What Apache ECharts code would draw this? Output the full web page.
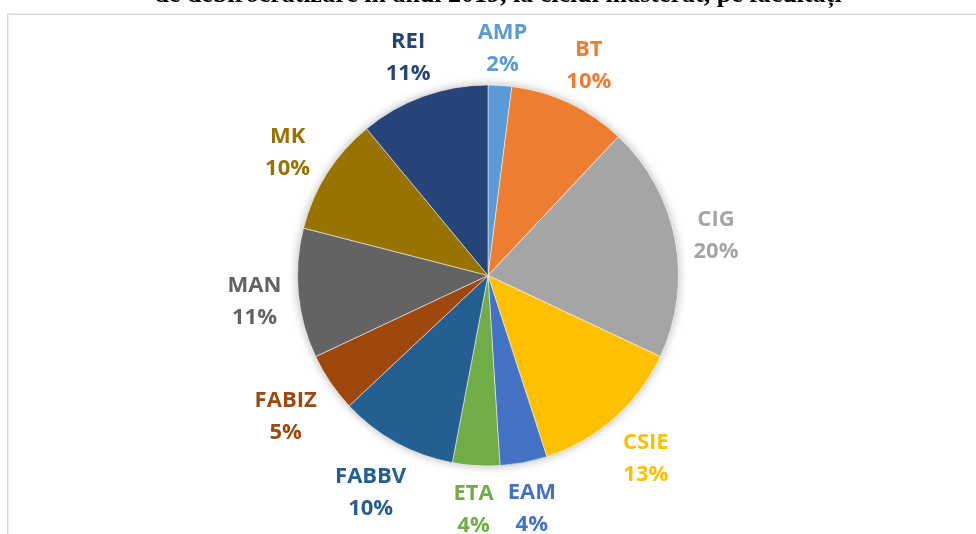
<!DOCTYPE html>
<html>
<head>
<meta charset="utf-8">
<title>Masterat pe facultăți</title>
<script src="https://cdn.jsdelivr.net/npm/echarts@6/dist/echarts.min.js"></script>
<style>
  html, body { margin: 0; padding: 0; background: #fff; }
  #chart { width: 976px; height: 534px; }
</style>
</head>
<body>
<div id="chart"></div>
<script>
// chart data
const faculties = ['AMP', 'BT', 'CIG', 'CSIE', 'EAM', 'ETA', 'FABBV', 'FABIZ', 'MAN', 'MK', 'REI'];
const shares = [2, 10, 20, 13, 4, 4, 10, 5, 11, 10, 11];
const colors = ['#5B9BD5', '#ED7D31', '#A5A5A5', '#FFC000', '#4472C4', '#70AD47',
                '#255E91', '#9E480E', '#636363', '#997300', '#264478'];
const titleText = 'de debirocratizare în anul 2019, la ciclul masterat, pe facultăți';

// pie geometry (pixels)
const CX = 488, CY = 275.5, R = 190.5;

const total = shares.reduce((a, b) => a + b, 0);
// mid angle of each slice, clockwise from 12 o'clock
const midAngles = [];
let acc = 0;
shares.forEach(v => {
    midAngles.push((acc + v / 2) / total * 2 * Math.PI);
    acc += v;
});

const chart = echarts.init(document.getElementById('chart'));

chart.setOption({
    animation: false,
    color: colors,
    graphic: [
        {
            type: 'rect',
            z: 0,
            shape: { x: 7.75, y: 14.25, width: 1200, height: 800 },
            style: { fill: 'none', stroke: '#d9d9d9', lineWidth: 1.5 }
        },
        {
            type: 'text',
            z: 10,
            style: {
                text: titleText,
                x: 498,
                y: -4.5,
                textAlign: 'center',
                textVerticalAlign: 'middle',
                font: 'bold 26px "Liberation Serif", "Times New Roman", serif',
                fill: '#000'
            }
        }
    ],
    series: [
        // soft shadow behind the pie
        {
            type: 'pie',
            silent: true,
            center: [CX, CY],
            radius: R,
            z: 1,
            label: { show: false },
            labelLine: { show: false },
            itemStyle: { color: '#fff', shadowBlur: 10, shadowColor: 'rgba(0,0,0,0.3)' },
            data: [{ name: '', value: total }]
        },
        {
            type: 'pie',
            center: [CX, CY],
            radius: R,
            startAngle: 90,
            clockwise: true,
            z: 2,
            emphasis: { disabled: true },
            itemStyle: { borderColor: '#fff', borderWidth: 0.5 },
            data: faculties.map((n, i) => ({
                name: n,
                value: shares[i],
                label: { color: colors[i] }
            })),
            label: {
                show: true,
                position: 'outside',
                formatter: p => p.name + '\n' + Math.round(p.percent) + '%',
                fontFamily: '"Open Sans", sans-serif',
                fontWeight: 'bold',
                fontSize: 22,
                lineHeight: 32
            },
            labelLine: { show: false },
            labelLayout: function (p) {
                const a = midAngles[p.dataIndex];
                const s = Math.sin(a), c = Math.cos(a);
                const w = p.labelRect.width, h = 48;
                const ext = w / 2 * Math.abs(s) + h / 2 * Math.abs(c);
                const d = R + 15 + ext;
                return { x: CX + d * s, y: CY - d * c + 4, align: 'center', verticalAlign: 'middle' };
            }
        }
    ]
});

window.addEventListener('resize', function () {
    chart.resize();
});
</script>
</body>
</html>
